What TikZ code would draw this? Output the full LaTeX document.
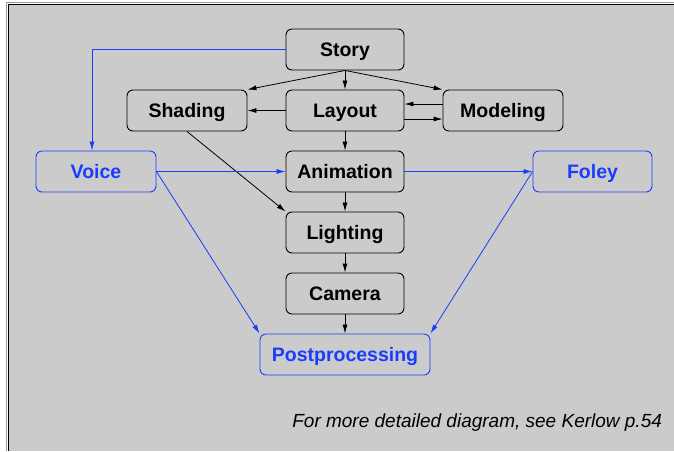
\documentclass[tikz,border=0pt]{standalone}
\usepackage{fontspec}
\setmainfont{Liberation Sans}
\usepackage{xcolor}
\usepackage{tikz}
\usetikzlibrary{arrows.meta}
\definecolor{panel}{HTML}{CBCBCB}
\definecolor{rim}{HTML}{9A9A9A}
\definecolor{ink}{HTML}{000000}
\definecolor{sound}{HTML}{1A3CFF}
\tikzset{
  stage/.style={draw=ink, line width=0.9pt, rounded corners=6pt, minimum width=118pt, minimum height=41pt, inner sep=0pt, text height=16.5pt, text depth=2pt, font=\fontsize{19.5}{22}\selectfont\bfseries, text=ink},
  audio/.style={stage, draw=sound, text=sound},
  flow/.style={draw=ink, line width=0.8pt, -{Latex[length=9pt,width=5pt]}},
  sflow/.style={draw=sound, line width=0.8pt, -{Latex[length=9pt,width=5pt]}},
  note/.style={text=ink, font=\fontsize{19}{22}\selectfont\itshape},
}

\begin{document}
\begin{tikzpicture}[x=1pt,y=-1pt]
  \useasboundingbox (0,0) rectangle (674,451);
  \fill[panel] (9,5) rectangle (674,451);
  \draw[rim, line width=1.2pt] (6.5,451) -- (6.5,2.5) -- (674,2.5);
  \draw[ink, line width=1.2pt] (8.5,451) -- (8.5,4.2) -- (674,4.2);
  \node[stage] (story) at (345,49.5) {Story};
  \node[stage] (layout) at (345,110.5) {Layout};
  \node[stage, minimum width=120pt] (shading) at (187,110.5) {Shading};
  \node[stage, minimum width=120pt] (modeling) at (503,110.5) {Modeling};
  \node[audio, minimum width=120pt] (voice) at (96,171.5) {Voice};
  \node[stage] (animation) at (345,171.5) {Animation};
  \node[audio, minimum width=119pt] (foley) at (592.5,171.5) {Foley};
  \node[stage] (lighting) at (345,232.5) {Lighting};
  \node[stage] (camera) at (345,293.5) {Camera};
  \node[audio, minimum width=170pt] (post) at (345,354.5) {Postprocessing};
  \foreach \a/\b in {story/layout,layout/animation,animation/lighting,lighting/camera,camera/post}
    \draw[flow] (\a) -- (\b);
  \draw[flow] (story.south) -- (shading.north east);
  \draw[flow] (story.south) -- (modeling.north west);
  \draw[flow] (layout) -- (shading);
  \draw[flow] ([yshift=6.5pt]modeling.west) -- ([yshift=6.5pt]layout.east);
  \draw[flow] ([yshift=-8.5pt]layout.east) -- ([yshift=-8.5pt]modeling.west);
  \draw[flow] (shading.south) -- (lighting.north west);
  \draw[sflow] (story.west) -| ([xshift=-4pt]voice.north);
  \draw[sflow] (voice.east) -- (animation.west);
  \draw[sflow] (animation.east) -- (foley.west);
  \draw[sflow] (voice.east) -- (post.north west);
  \draw[sflow] (foley.west) -- (post.north east);
  \node[note, anchor=east] (caption) at (665.5,423) {For more detailed diagram, see Kerlow p.54};
\end{tikzpicture}
\end{document}
